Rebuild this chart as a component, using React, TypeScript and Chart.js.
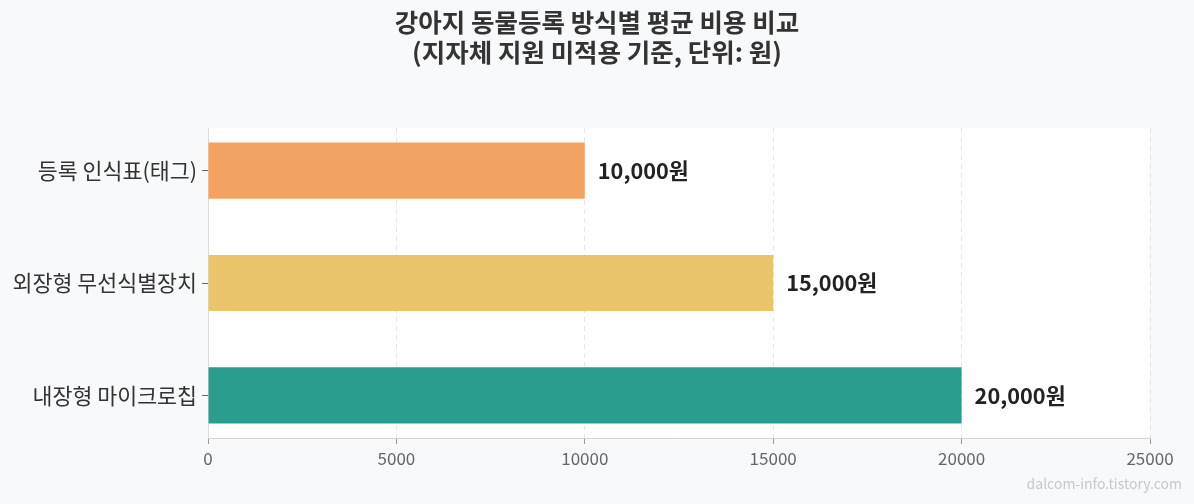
import { useRef, useEffect } from "react";
import { Chart, registerables, type Plugin } from "chart.js";

Chart.register(...registerables);

const categories = ["등록 인식표(태그)", "외장형 무선식별장치", "내장형 마이크로칩"];
const costs = [10000, 15000, 20000];
const barColors = ["#f4a261", "#e9c46a", "#2a9d8f"];
const xTicks = [0, 5000, 10000, 15000, 20000, 25000];
const titleLines = ["강아지 동물등록 방식별 평균 비용 비교", "(지자체 지원 미적용 기준, 단위: 원)"];
const watermark = "dalcom-info.tistory.com";

const FONT = "'Noto Sans CJK KR', 'Noto Sans', sans-serif";

const decor: Plugin<"bar"> = {
  id: "decor",
  beforeDraw(chart) {
    const { ctx, chartArea, width, height } = chart;
    ctx.save();
    ctx.fillStyle = "#f8f9fa";
    ctx.fillRect(0, 0, width, height);
    ctx.fillStyle = "#ffffff";
    ctx.fillRect(chartArea.left, chartArea.top, chartArea.right - chartArea.left, chartArea.bottom - chartArea.top);
    ctx.restore();
  },
  afterDatasetsDraw(chart) {
    const { ctx } = chart;
    const meta = chart.getDatasetMeta(0);
    ctx.save();
    ctx.font = `bold 21.7px ${FONT}`;
    ctx.fillStyle = "#222222";
    ctx.textAlign = "left";
    ctx.textBaseline = "middle";
    meta.data.forEach((bar, i) => {
      ctx.fillText(costs[i].toLocaleString("en-US") + "원", bar.x + 13, bar.y);
    });
    ctx.restore();
  },
  afterDraw(chart) {
    const { ctx, width } = chart;
    ctx.save();
    ctx.fillStyle = "#333333";
    ctx.textAlign = "center";
    ctx.textBaseline = "middle";
    ctx.font = `bold 25.5px ${FONT}`;
    ctx.fillText(titleLines[0], width / 2, 22);
    ctx.fillText(titleLines[1], width / 2, 52);
    ctx.font = `14px ${FONT}`;
    ctx.fillStyle = "#c8c8c8";
    ctx.textAlign = "right";
    ctx.fillText(watermark, 1182, 484);
    ctx.restore();
  },
};

export default function App() {
  const canvasRef = useRef<HTMLCanvasElement>(null);

  useEffect(() => {
    if (!canvasRef.current) return;
    document.body.style.background = "#f8f9fa";

    const chart = new Chart(canvasRef.current, {
      type: "bar",
      data: {
        datasets: [
          {
            data: categories.map((_, i) => ({ x: costs[i], y: i })) as any,
            backgroundColor: barColors,
            borderWidth: 0,
            barPercentage: 0.5,
            categoryPercentage: 1,
          },
        ],
      },
      options: {
        indexAxis: "y",
        animation: false,
        responsive: true,
        maintainAspectRatio: false,
        layout: { padding: { top: 128, right: 44, left: 0, bottom: 0 } },
        plugins: { legend: { display: false }, tooltip: { enabled: false } },
        scales: {
          x: {
            type: "linear",
            min: 0,
            max: 25000,
            offset: false,
            afterBuildTicks: (scale) => {
              scale.ticks = xTicks.map((v) => ({ value: v }));
            },
            afterFit: (scale) => {
              scale.height = 66;
            },
            ticks: {
              color: "#666666",
              font: { family: FONT, size: 17 },
              padding: 4,
              maxRotation: 0,
              callback: (v) => String(v),
            },
            grid: {
              offset: false,
              color: "#e6e6e6",
              tickColor: "#999999",
              tickLength: 6,
              lineWidth: 1,
            },
            border: { color: "#d4d4d4", dash: [5, 4] },
          },
          y: {
            type: "linear",
            reverse: true,
            offset: false,
            min: -0.38,
            max: 2.38,
            afterBuildTicks: (scale) => {
              scale.ticks = categories.map((_, i) => ({ value: i }));
            },
            afterFit: (scale) => {
              scale.width = 208;
            },
            ticks: {
              color: "#333333",
              font: { family: FONT, size: 21.7 },
              padding: 5,
              autoSkip: false,
              callback: (v) => categories[Number(v)] ?? "",
            },
            grid: {
              offset: false,
              drawOnChartArea: false,
              tickColor: "#666666",
              tickLength: 6,
            },
            border: { color: "#dcdcdc" },
          },
        },
      },
      plugins: [decor],
    });

    return () => {
      chart.destroy();
    };
  }, []);

  return (
    <div style={{ position: "absolute", left: 0, top: 0, width: 1194, height: 504 }}>
      <canvas ref={canvasRef} aria-label="강아지 동물등록 방식별 평균 비용 비교" />
    </div>
  );
}
